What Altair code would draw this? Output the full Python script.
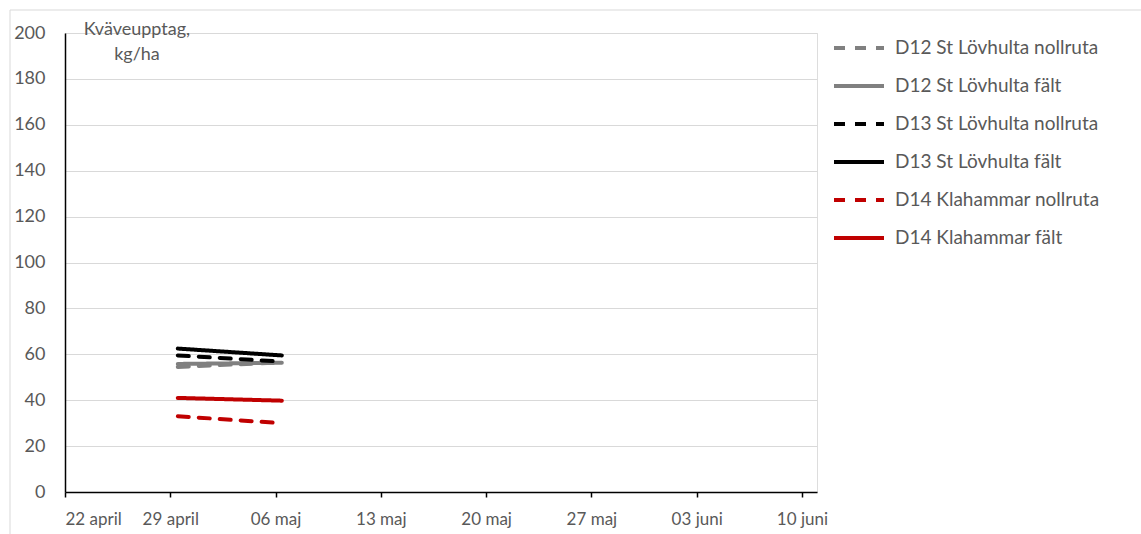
import altair as alt
import pandas as pd

series = [
    "D12 St Lövhulta nollruta",
    "D12 St Lövhulta fält",
    "D13 St Lövhulta nollruta",
    "D13 St Lövhulta fält",
    "D14 Klahammar nollruta",
    "D14 Klahammar fält",
]
dates = ["2023-04-29T12:00:00", "2023-05-06T10:00:00"]
values = {
    "D12 St Lövhulta nollruta": [54.5, 56.5],
    "D12 St Lövhulta fält": [55.8, 56.3],
    "D13 St Lövhulta nollruta": [59.5, 56.8],
    "D13 St Lövhulta fält": [62.5, 59.5],
    "D14 Klahammar nollruta": [33.0, 30.0],
    "D14 Klahammar fält": [41.0, 39.8],
}
colors = ["#808080", "#808080", "#000000", "#000000", "#C00000", "#C00000"]
dashes = [[11, 10], [1, 0], [11, 10], [1, 0], [11, 10], [1, 0]]
tick_dates = ["2023-04-22", "2023-04-29", "2023-05-06", "2023-05-13",
              "2023-05-20", "2023-05-27", "2023-06-03", "2023-06-10"]
y_ticks = list(range(0, 201, 20))

rows = []
for s in series:
    for d, v in zip(dates, values[s]):
        rows.append({"serie": s, "datum": d, "varde": v})
df = pd.DataFrame(rows)

FONT = "Lato"
TXT = "#595959"
W, H = 752, 459

tick_vals = [alt.DateTime(year=int(t[:4]), month=int(t[5:7]), date=int(t[8:10])) for t in tick_dates]

lines = alt.Chart(df).mark_line(strokeWidth=4, strokeCap="round").encode(
    x=alt.X("datum:T",
            scale=alt.Scale(domain=[alt.DateTime(year=2023, month=4, date=22),
                                    alt.DateTime(year=2023, month=6, date=11)]),
            axis=alt.Axis(values=tick_vals, title=None, grid=False,
                          labelExpr="timeFormat(datum.value, '%d') + ' ' + ['januari','februari','mars','april','maj','juni','juli','augusti','september','oktober','november','december'][month(datum.value)]",
                          domainColor="#000000", domainWidth=1.5,
                          tickColor="#000000", tickSize=5, tickWidth=1.5,
                          labelPadding=14, labelFont=FONT,
                          labelFontSize=17, labelColor=TXT)),
    y=alt.Y("varde:Q",
            scale=alt.Scale(domain=[0, 200], nice=False),
            axis=alt.Axis(values=y_ticks, title=None, grid=True, gridColor="#d9d9d9",
                          gridWidth=1, domainColor="#000000", domainWidth=1.5,
                          ticks=False, labelPadding=20, labelFont=FONT,
                          labelFontSize=18, labelColor=TXT)),
    color=alt.Color("serie:N", scale=alt.Scale(domain=series, range=colors),
                    sort=series,
                    legend=alt.Legend(title=None, orient="none", legendX=767, legendY=-12,
                                      symbolType="stroke", symbolSize=2500,
                                      symbolStrokeWidth=4, labelFont=FONT,
                                      labelFontSize=19, labelColor=TXT,
                                      rowPadding=1, labelOffset=9, labelLimit=300)),
    strokeDash=alt.StrokeDash("serie:N", scale=alt.Scale(domain=series, range=dashes),
                              sort=series, legend=alt.Legend(title=None)),
    detail="serie:N",
)

title_df = pd.DataFrame({"t": ["Kväveupptag,", "kg/ha"], "yy": [-3, 22]})
title = alt.Chart(title_df).mark_text(font=FONT, fontSize=18, color=TXT,
                                      align="center", baseline="middle").encode(
    text="t:N", x=alt.value(72), y=alt.Y("yy:Q", scale=None),
)

border = alt.Chart(pd.DataFrame({"a": [0]})).mark_rect(
    fill=None, stroke="#d9d9d9", strokeWidth=1).encode(
    x=alt.value(-55), x2=alt.value(1100), y=alt.value(-23), y2=alt.value(520))

chart = alt.layer(border, lines, title).properties(
    width=W, height=H,
    autosize=alt.AutoSizeParams(type="none"),
    padding={"left": 65, "top": 33, "right": 324, "bottom": 42},
).configure_view(stroke=None).configure(background="white")

chart.save("out.html", embed_options={"renderer": "svg", "actions": False})
